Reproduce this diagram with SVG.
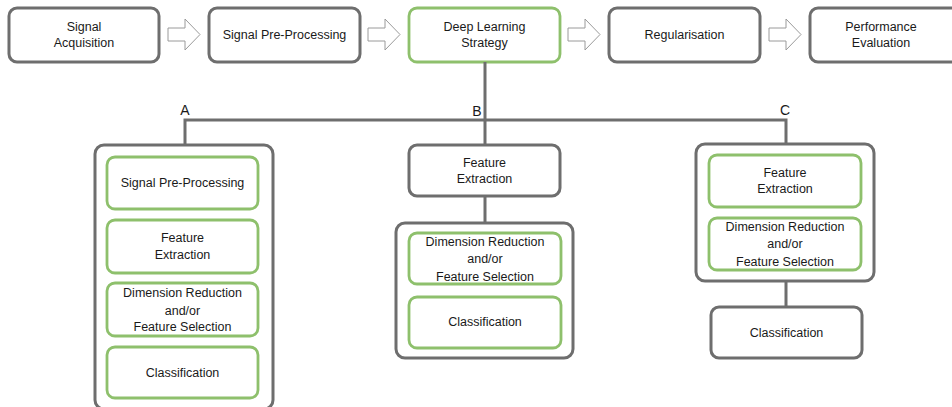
<svg xmlns="http://www.w3.org/2000/svg" width="952" height="407" viewBox="0 0 952 407">
  <style>
    .gray { fill: #ffffff; stroke: #6e6e6e; stroke-width: 3; }
    .green { fill: #ffffff; stroke: #8ec06c; stroke-width: 2.8; }
    .lbl { font-family: "Liberation Sans", Arial, sans-serif; font-size: 12.5px; fill: #1a1a1a; text-anchor: middle; dominant-baseline: central; }
    .letter { font-family: "Liberation Sans", Arial, sans-serif; font-size: 14px; fill: #1a1a1a; text-anchor: middle; }
    .conn { stroke: #6e6e6e; stroke-width: 3; fill: none; }
    .blk { fill: #ffffff; stroke: #9a9a9a; stroke-width: 1; }
  </style>
  <defs>
    <path id="blockArrow" d="M0,13 H17 V4 L32,19.5 L17,35 V26 H0 Z"/>
  </defs>
  <rect width="952" height="407" fill="#ffffff"/>

  <!-- pipeline row -->
  <g id="signal-acquisition">
    <rect class="gray" x="9" y="8" width="150" height="54" rx="8"/>
    <text class="lbl" x="84" y="27">Signal</text>
    <text class="lbl" x="84" y="43">Acquisition</text>
  </g>
  <g id="signal-preprocessing">
    <rect class="gray" x="209" y="8" width="151" height="54" rx="8"/>
    <text class="lbl" x="284.5" y="35">Signal Pre-Processing</text>
  </g>
  <g id="deep-learning-strategy">
    <rect class="green" x="409" y="8" width="151" height="54" rx="8"/>
    <text class="lbl" x="484.5" y="27">Deep Learning</text>
    <text class="lbl" x="484.5" y="43">Strategy</text>
  </g>
  <g id="regularisation">
    <rect class="gray" x="609" y="8" width="151" height="54" rx="8"/>
    <text class="lbl" x="684.5" y="35">Regularisation</text>
  </g>
  <g id="performance-evaluation">
    <rect class="gray" x="810" y="8" width="152" height="54" rx="8"/>
    <text class="lbl" x="881" y="27">Performance</text>
    <text class="lbl" x="881" y="43">Evaluation</text>
  </g>

  <!-- connectors -->
  <g id="connectors">
    <use href="#blockArrow" class="blk" x="168" y="15"/>
    <use href="#blockArrow" class="blk" x="368" y="15"/>
    <use href="#blockArrow" class="blk" x="568" y="15"/>
    <use href="#blockArrow" class="blk" x="769" y="15"/>
    <path class="conn" d="M485,62 V120 M185,146 V120 H786 V144 M485,120 V145 M485,196 V223 M786,281 V307"/>
  </g>

  <!-- branch labels -->
  <text class="letter" x="185" y="115">A</text>
  <text class="letter" x="477" y="116">B</text>
  <text class="letter" x="785" y="115">C</text>

  <!-- branch A -->
  <g id="branch-a">
    <rect class="gray" x="95" y="145" width="178" height="264" rx="9"/>
    <g id="a-preprocessing">
      <rect class="green" x="107" y="157" width="151" height="52" rx="8"/>
      <text class="lbl" x="182.5" y="183">Signal Pre-Processing</text>
    </g>
    <g id="a-feature-extraction">
      <rect class="green" x="107" y="220" width="151" height="53" rx="8"/>
      <text class="lbl" x="182.5" y="238">Feature</text>
      <text class="lbl" x="182.5" y="255">Extraction</text>
    </g>
    <g id="a-dimension-reduction">
      <rect class="green" x="107" y="283" width="151" height="53" rx="8"/>
      <text class="lbl" x="182.5" y="293">Dimension Reduction</text>
      <text class="lbl" x="182.5" y="311">and/or</text>
      <text class="lbl" x="182.5" y="327">Feature Selection</text>
    </g>
    <g id="a-classification">
      <rect class="green" x="107" y="347" width="151" height="51" rx="8"/>
      <text class="lbl" x="182.5" y="373">Classification</text>
    </g>
  </g>

  <!-- branch B -->
  <g id="b-feature-extraction">
    <rect class="gray" x="409" y="145" width="151" height="51" rx="8"/>
    <text class="lbl" x="484.5" y="163">Feature</text>
    <text class="lbl" x="484.5" y="179">Extraction</text>
  </g>
  <g id="branch-b">
    <rect class="gray" x="396" y="223" width="177" height="135" rx="9"/>
    <g id="b-dimension-reduction">
      <rect class="green" x="409" y="233" width="152" height="51" rx="8"/>
      <text class="lbl" x="485" y="242">Dimension Reduction</text>
      <text class="lbl" x="485" y="259">and/or</text>
      <text class="lbl" x="485" y="277">Feature Selection</text>
    </g>
    <g id="b-classification">
      <rect class="green" x="409" y="297" width="152" height="51" rx="8"/>
      <text class="lbl" x="485" y="322">Classification</text>
    </g>
  </g>

  <!-- branch C -->
  <g id="branch-c">
    <rect class="gray" x="696" y="144" width="178" height="137" rx="9"/>
    <g id="c-feature-extraction">
      <rect class="green" x="709" y="155" width="152" height="52" rx="8"/>
      <text class="lbl" x="785" y="173">Feature</text>
      <text class="lbl" x="785" y="189">Extraction</text>
    </g>
    <g id="c-dimension-reduction">
      <rect class="green" x="709" y="218" width="152" height="52" rx="8"/>
      <text class="lbl" x="785" y="227">Dimension Reduction</text>
      <text class="lbl" x="785" y="244">and/or</text>
      <text class="lbl" x="785" y="262">Feature Selection</text>
    </g>
  </g>
  <g id="c-classification">
    <rect class="gray" x="711" y="307" width="151" height="51" rx="8"/>
    <text class="lbl" x="786.5" y="333">Classification</text>
  </g>
</svg>
